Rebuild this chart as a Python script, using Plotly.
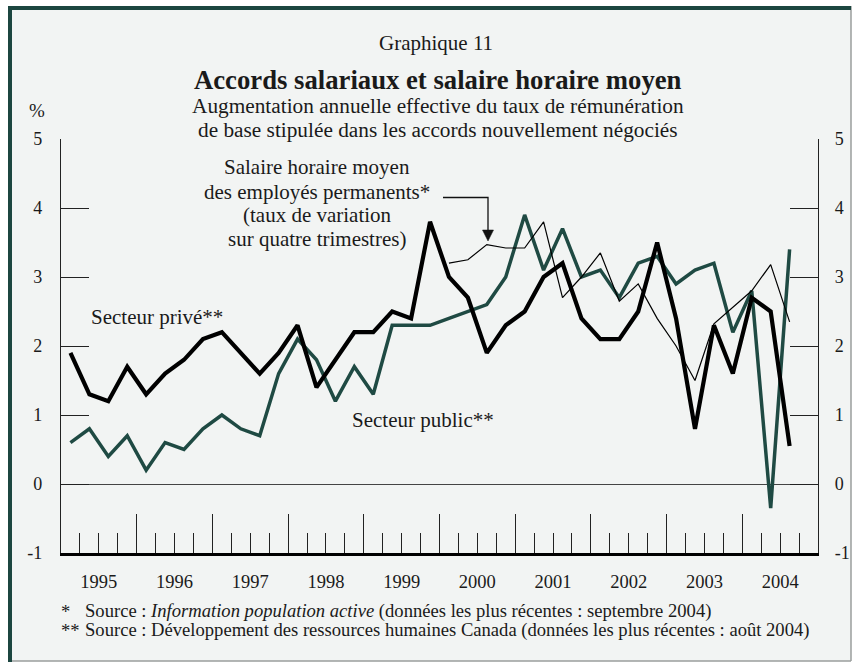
import plotly.graph_objects as go

# ---------------- data (quarterly, 1995Q1 .. 2004Q3) ----------------
start_year = 1995
prive = [1.9, 1.3, 1.2, 1.7, 1.3, 1.6, 1.8, 2.1, 2.2, 1.9, 1.6, 1.9, 2.3, 1.4, 1.8,
         2.2, 2.2, 2.5, 2.4, 3.8, 3.0, 2.7, 1.9, 2.3, 2.5, 3.0, 3.2, 2.4, 2.1, 2.1,
         2.5, 3.5, 2.4, 0.8, 2.3, 1.6, 2.7, 2.5, 0.55]
public = [0.6, 0.8, 0.4, 0.7, 0.2, 0.6, 0.5, 0.8, 1.0, 0.8, 0.7, 1.6, 2.1, 1.8, 1.2,
          1.7, 1.3, 2.3, 2.3, 2.3, 2.4, 2.5, 2.6, 3.0, 3.9, 3.1, 3.7, 3.0, 3.1, 2.7,
          3.2, 3.3, 2.9, 3.1, 3.2, 2.2, 2.8, -0.35, 3.4]
salaire = [None] * 20 + [3.2, 3.25, 3.47, 3.42, 3.42, 3.8, 2.7, 3.0, 3.35, 2.65,
                         2.9, 2.4, 2.0, 1.5, 2.32, 2.56, 2.8, 3.18, 2.35]
years = [1995, 1996, 1997, 1998, 1999, 2000, 2001, 2002, 2003, 2004]
y_ticks = [-1, 0, 1, 2, 3, 4, 5]
y_ticktext = ["-1", "0", "1", "2", "3", "4", "5"]

x = [start_year + (i + 0.5) / 4 for i in range(len(prive))]

# ---------------- geometry helpers ----------------
W, H = 854, 662
L, R, T, B = 61, 36, 139, 109


def px(xp):
    return (xp - L) / (W - L - R)


def py(yp):
    return 1 - (yp - T) / (H - T - B)


GREEN = "#1f4a43"
BG = "#f2f4f3"
FONT = "Liberation Serif"
TXT = "#1a1a1a"

fig = go.Figure()
fig.add_trace(go.Scatter(x=x, y=public, mode="lines", line=dict(color=GREEN, width=3.5),
                         showlegend=False, hoverinfo="skip"))
fig.add_trace(go.Scatter(x=x, y=prive, mode="lines", line=dict(color="#000000", width=4.2),
                         showlegend=False, hoverinfo="skip"))
fig.add_trace(go.Scatter(x=x, y=salaire, mode="lines", line=dict(color="#000000", width=1.2),
                         showlegend=False, hoverinfo="skip", connectgaps=False))
# helper traces so the overlay axes render
fig.add_trace(go.Scatter(x=[start_year, start_year + 10], y=[None, None], xaxis="x2", yaxis="y",
                         mode="lines", line=dict(color="rgba(0,0,0,0)"),
                         showlegend=False, hoverinfo="skip"))
fig.add_trace(go.Scatter(x=[start_year, start_year + 10], y=[None, None], xaxis="x", yaxis="y2",
                         mode="lines", line=dict(color="rgba(0,0,0,0)"),
                         showlegend=False, hoverinfo="skip"))

xr = [start_year, start_year + len(years)]
yaxis_common = dict(range=[-1, 5], tickvals=y_ticks, ticktext=y_ticktext, ticks="inside",
                    ticklen=28, tickwidth=1.3, tickcolor="#222", showline=True,
                    linecolor="#222", linewidth=1.3, showgrid=False, automargin=False,
                    tickfont=dict(family=FONT, size=18, color=TXT), fixedrange=True)

fig.update_layout(
    width=W, height=H,
    margin=dict(l=L, r=R, t=T, b=B, pad=0, autoexpand=False),
    paper_bgcolor="white",
    plot_bgcolor="rgba(0,0,0,0)",
    font=dict(family=FONT, color=TXT),
    xaxis=dict(range=xr, tickvals=[yv + 0.5 for yv in years], ticktext=[str(yv) for yv in years],
               ticks="", showline=True, linecolor="#000", linewidth=3, showgrid=False,
               zeroline=False, tickfont=dict(family=FONT, size=18.5, color=TXT),
               ticklabelstandoff=10, fixedrange=True, automargin=False),
    xaxis2=dict(range=xr, overlaying="x", anchor="y", side="bottom",
                tickvals=[yv for yv in years[1:]], ticks="inside", ticklen=39,
                tickwidth=1.3, tickcolor="#222", showticklabels=False, showline=False,
                showgrid=False, zeroline=False, automargin=False,
                minor=dict(tick0=start_year, dtick=0.25, ticks="inside", ticklen=20,
                           tickwidth=1.3, tickcolor="#222", showgrid=False),
                fixedrange=True),
    yaxis=dict(**yaxis_common, zeroline=True, zerolinecolor="#444", zerolinewidth=1.3,
               ticklabelstandoff=14),
    yaxis2=dict(**yaxis_common, overlaying="y", side="right", anchor="x", zeroline=False,
                ticklabelstandoff=12),
)

shapes = [
    # panel background and frame
    dict(type="rect", xref="paper", yref="paper", x0=px(8), x1=px(851), y0=py(661), y1=py(6),
         fillcolor=BG, line=dict(width=0), layer="below"),
    dict(type="line", xref="paper", yref="paper", x0=px(851), x1=px(851), y0=py(661), y1=py(6),
         line=dict(color="#9a9e9c", width=1.5)),
    dict(type="line", xref="paper", yref="paper", x0=px(8), x1=px(851), y0=py(661), y1=py(661),
         line=dict(color="#9a9e9c", width=1.5)),
    dict(type="line", xref="paper", yref="paper", x0=px(8), x1=px(851), y0=py(8), y1=py(8),
         line=dict(color="#1c4640", width=4)),
    dict(type="line", xref="paper", yref="paper", x0=px(10), x1=px(10), y0=py(662), y1=py(6),
         line=dict(color="#1c4640", width=4)),
    # elbow arrow for the hourly-wage label
    dict(type="path", xref="paper", yref="paper",
         path=f"M {px(443)} {py(197.5)} L {px(488)} {py(197.5)} L {px(488)} {py(232)}",
         line=dict(color="#111", width=1.3)),
    dict(type="path", xref="paper", yref="paper",
         path=f"M {px(482.5)} {py(230)} L {px(493.5)} {py(230)} L {px(488)} {py(241)} Z",
         fillcolor="#111", line=dict(color="#111", width=0.5)),
]
fig.update_layout(shapes=shapes)


def txt(text, xp, yp, size, xanchor="center", bold=False):
    fig.add_annotation(text=(f"<b>{text}</b>" if bold else text), xref="paper", yref="paper",
                       x=px(xp), y=py(yp), xanchor=xanchor, yanchor="middle", showarrow=False,
                       font=dict(family=FONT, size=size, color=TXT))


txt("Graphique 11", 436, 43, 21)
txt("Accords salariaux et salaire horaire moyen", 437.5, 80, 26.7, bold=True)
txt("Augmentation annuelle effective du taux de rémunération", 437.5, 106, 21.3)
txt("de base stipulée dans les accords nouvellement négociés", 437.5, 130, 21.3)
txt("%", 37, 111, 19)

txt("Salaire horaire moyen", 317, 167, 21)
txt("des employés permanents*", 317, 191.5, 21)
txt("(taux de variation", 317, 215, 21)
txt("sur quatre trimestres)", 317, 239, 21)

txt("Secteur privé**", 89, 317, 21, xanchor="left")
txt("Secteur public**", 350, 420, 21, xanchor="left")

txt("*", 59, 611, 18.6, xanchor="left")
txt("Source : <i>Information population active</i> (données les plus récentes : septembre 2004)",
    83, 611, 18.6, xanchor="left")
txt("**", 59, 630, 18.6, xanchor="left")
txt("Source : Développement des ressources humaines Canada (données les plus récentes : août 2004)",
    83, 630, 18.6, xanchor="left")

fig.write_html(
    "out.html",
    config={"displayModeBar": False},
    post_script="document.body.style.margin='0';document.body.style.overflow='hidden';",
)
